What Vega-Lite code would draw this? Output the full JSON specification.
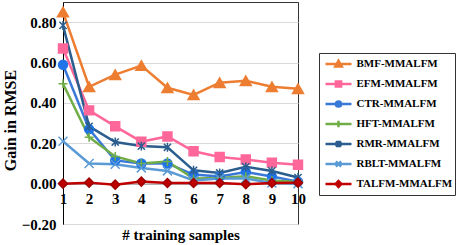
{
  "$schema": "https://vega.github.io/schema/vega-lite/v6.json",
  "width": 235,
  "height": 222,
  "autosize": "none",
  "padding": {"left": 63, "top": 2, "right": 163, "bottom": 21},
  "background": "white",
  "config": {
    "view": {"stroke": "#333333", "strokeWidth": 1},
    "font": "Liberation Serif"
  },
  "data": {
    "values": [
      {"s": "BMF-MMALFM", "n": 1, "v": 0.85}, {"s": "BMF-MMALFM", "n": 2, "v": 0.48}, {"s": "BMF-MMALFM", "n": 3, "v": 0.54}, {"s": "BMF-MMALFM", "n": 4, "v": 0.585}, {"s": "BMF-MMALFM", "n": 5, "v": 0.475}, {"s": "BMF-MMALFM", "n": 6, "v": 0.44}, {"s": "BMF-MMALFM", "n": 7, "v": 0.5}, {"s": "BMF-MMALFM", "n": 8, "v": 0.51}, {"s": "BMF-MMALFM", "n": 9, "v": 0.48}, {"s": "BMF-MMALFM", "n": 10, "v": 0.47},
      {"s": "EFM-MMALFM", "n": 1, "v": 0.67}, {"s": "EFM-MMALFM", "n": 2, "v": 0.363}, {"s": "EFM-MMALFM", "n": 3, "v": 0.284}, {"s": "EFM-MMALFM", "n": 4, "v": 0.208}, {"s": "EFM-MMALFM", "n": 5, "v": 0.234}, {"s": "EFM-MMALFM", "n": 6, "v": 0.16}, {"s": "EFM-MMALFM", "n": 7, "v": 0.132}, {"s": "EFM-MMALFM", "n": 8, "v": 0.12}, {"s": "EFM-MMALFM", "n": 9, "v": 0.104}, {"s": "EFM-MMALFM", "n": 10, "v": 0.094},
      {"s": "CTR-MMALFM", "n": 1, "v": 0.589}, {"s": "CTR-MMALFM", "n": 2, "v": 0.27}, {"s": "CTR-MMALFM", "n": 3, "v": 0.115}, {"s": "CTR-MMALFM", "n": 4, "v": 0.1}, {"s": "CTR-MMALFM", "n": 5, "v": 0.1}, {"s": "CTR-MMALFM", "n": 6, "v": 0.045}, {"s": "CTR-MMALFM", "n": 7, "v": 0.035}, {"s": "CTR-MMALFM", "n": 8, "v": 0.058}, {"s": "CTR-MMALFM", "n": 9, "v": 0.035}, {"s": "CTR-MMALFM", "n": 10, "v": 0.01},
      {"s": "HFT-MMALFM", "n": 1, "v": 0.495}, {"s": "HFT-MMALFM", "n": 2, "v": 0.23}, {"s": "HFT-MMALFM", "n": 3, "v": 0.135}, {"s": "HFT-MMALFM", "n": 4, "v": 0.1}, {"s": "HFT-MMALFM", "n": 5, "v": 0.11}, {"s": "HFT-MMALFM", "n": 6, "v": 0.025}, {"s": "HFT-MMALFM", "n": 7, "v": 0.028}, {"s": "HFT-MMALFM", "n": 8, "v": 0.036}, {"s": "HFT-MMALFM", "n": 9, "v": 0.016}, {"s": "HFT-MMALFM", "n": 10, "v": 0.008},
      {"s": "RMR-MMALFM", "n": 1, "v": 0.784}, {"s": "RMR-MMALFM", "n": 2, "v": 0.284}, {"s": "RMR-MMALFM", "n": 3, "v": 0.206}, {"s": "RMR-MMALFM", "n": 4, "v": 0.186}, {"s": "RMR-MMALFM", "n": 5, "v": 0.18}, {"s": "RMR-MMALFM", "n": 6, "v": 0.066}, {"s": "RMR-MMALFM", "n": 7, "v": 0.053}, {"s": "RMR-MMALFM", "n": 8, "v": 0.083}, {"s": "RMR-MMALFM", "n": 9, "v": 0.063}, {"s": "RMR-MMALFM", "n": 10, "v": 0.03},
      {"s": "RBLT-MMALFM", "n": 1, "v": 0.21}, {"s": "RBLT-MMALFM", "n": 2, "v": 0.1}, {"s": "RBLT-MMALFM", "n": 3, "v": 0.096}, {"s": "RBLT-MMALFM", "n": 4, "v": 0.078}, {"s": "RBLT-MMALFM", "n": 5, "v": 0.063}, {"s": "RBLT-MMALFM", "n": 6, "v": 0.016}, {"s": "RBLT-MMALFM", "n": 7, "v": 0.025}, {"s": "RBLT-MMALFM", "n": 8, "v": 0.025}, {"s": "RBLT-MMALFM", "n": 9, "v": 0.003}, {"s": "RBLT-MMALFM", "n": 10, "v": 0.0},
      {"s": "TALFM-MMALFM", "n": 1, "v": 0.0}, {"s": "TALFM-MMALFM", "n": 2, "v": 0.005}, {"s": "TALFM-MMALFM", "n": 3, "v": -0.005}, {"s": "TALFM-MMALFM", "n": 4, "v": 0.01}, {"s": "TALFM-MMALFM", "n": 5, "v": 0.003}, {"s": "TALFM-MMALFM", "n": 6, "v": 0.003}, {"s": "TALFM-MMALFM", "n": 7, "v": 0.003}, {"s": "TALFM-MMALFM", "n": 8, "v": -0.003}, {"s": "TALFM-MMALFM", "n": 9, "v": 0.003}, {"s": "TALFM-MMALFM", "n": 10, "v": 0.005}
    ]
  },
  "encoding": {
    "x": {
      "field": "n", "type": "quantitative",
      "scale": {"domain": [1, 10], "nice": false, "zero": false},
      "axis": {
        "values": [1, 2, 3, 4, 5, 6, 7, 8, 9, 10],
        "offset": -40.4,
        "grid": false,
        "ticks": false,
        "labelFlush": false,
        "labelOverlap": false,
        "domainColor": "#999999",
        "labelFont": "Liberation Serif", "labelFontWeight": "bold", "labelFontSize": 15, "labelColor": "black",
        "labelPadding": 8,
        "labelBaseline": "top",
        "title": "# training samples",
        "titleFont": "Liberation Serif", "titleFontWeight": "bold", "titleFontSize": 15, "titleColor": "black",
        "titleBaseline": "top",
        "titleY": 44
      }
    },
    "y": {
      "field": "v", "type": "quantitative",
      "scale": {"domain": [-0.2, 0.9], "nice": false, "zero": false},
      "axis": {
        "values": [-0.2, 0, 0.2, 0.4, 0.6, 0.8],
        "format": ".2f",
        "grid": true, "gridColor": "#d9d9d9",
        "ticks": false,
        "labelFlush": false,
        "domainColor": "black",
        "labelFont": "Liberation Serif", "labelFontWeight": "bold", "labelFontSize": 15, "labelColor": "black",
        "labelPadding": 7,
        "title": "Gain in RMSE",
        "titleFont": "Liberation Serif", "titleFontWeight": "bold", "titleFontSize": 16, "titleColor": "black",
        "titleAngle": -90,
        "titleBaseline": "middle",
        "titleAlign": "center",
        "titleX": -53,
        "titleY": 118
      }
    }
  },
  "layer": [
    {
      "mark": {"type": "line", "strokeWidth": 2.5},
      "encoding": {
        "color": {
          "field": "s", "type": "nominal", "sort": null,
          "scale": {
            "domain": ["BMF-MMALFM", "EFM-MMALFM", "CTR-MMALFM", "HFT-MMALFM", "RMR-MMALFM", "RBLT-MMALFM", "TALFM-MMALFM"],
            "range": ["#ED7D31", "#FF679A", "#3A78D8", "#70AD47", "#2B5E8E", "#5B9BD5", "#C00000"]
          },
          "legend": {
            "title": null,
            "orient": "none",
            "legendX": 256,
            "legendY": 51,
            "padding": 2,
            "strokeColor": "#333333",
            "fillColor": "white",
            "symbolType": "stroke",
            "symbolSize": 676,
            "symbolStrokeWidth": 2.5,
            "symbolOffset": 3,
            "clipHeight": 18,
            "rowPadding": 2,
            "labelOffset": 3.5,
            "labelFont": "Liberation Serif", "labelFontWeight": "bold", "labelFontSize": 11, "labelColor": "black",
            "labelExpr": "datum.label + '\u00a0\u00a0\u00a0\u00a0'",
            "encode": {
              "symbols": {
                "update": {
                  "shape": {"signal": "datum.value === 'BMF-MMALFM' ? 'M-1,0H1M-0.25,0.2L0,-0.25L0.25,0.2Z' : datum.value === 'EFM-MMALFM' ? 'M-1,0H1M-0.2,-0.2H0.2V0.2H-0.2Z' : datum.value === 'CTR-MMALFM' ? 'M-1,0H1M-0.2,0A0.2,0.2 0 1,0 0.2,0A0.2,0.2 0 1,0 -0.2,0Z' : datum.value === 'HFT-MMALFM' ? 'M-1,0H1M0,-0.25V0.25' : datum.value === 'RMR-MMALFM' ? 'M-1,0H1M-0.2,-0.2L0.2,0.2M-0.2,0.2L0.2,-0.2M0,-0.25V0.25' : datum.value === 'RBLT-MMALFM' ? 'M-1,0H1M-0.2,-0.2L0.2,0.2M-0.2,0.2L0.2,-0.2' : 'M-1,0H1M-0.22,0L0,-0.22L0.22,0L0,0.22Z'"},
                  "fill": {"scale": "color", "field": "value"},
                  "stroke": {"scale": "color", "field": "value"},
                  "strokeWidth": {"value": 2.5},
                  "opacity": {"value": 1}
                }
              }
            }
          }
        }
      }
    },
    {
      "mark": {"type": "point", "filled": true, "opacity": 1, "strokeWidth": 1.5},
      "encoding": {
        "fill": {
          "field": "s", "type": "nominal", "sort": null, "legend": null,
          "scale": {
            "domain": ["BMF-MMALFM", "EFM-MMALFM", "CTR-MMALFM", "HFT-MMALFM", "RMR-MMALFM", "RBLT-MMALFM", "TALFM-MMALFM"],
            "range": ["#ED7D31", "#FF679A", "#1F74E8", "#70AD47", "#2B5E8E", "#5B9BD5", "#C00000"]
          }
        },
        "stroke": {
          "field": "s", "type": "nominal", "sort": null, "legend": null,
          "scale": {
            "domain": ["BMF-MMALFM", "EFM-MMALFM", "CTR-MMALFM", "HFT-MMALFM", "RMR-MMALFM", "RBLT-MMALFM", "TALFM-MMALFM"],
            "range": ["#ED7D31", "#FF679A", "#1F74E8", "#70AD47", "#2B5E8E", "#5B9BD5", "#A00000"]
          }
        },
        "shape": {
          "condition": [
            {"test": "datum.s === 'BMF-MMALFM'", "value": "triangle-up"},
            {"test": "datum.s === 'EFM-MMALFM'", "value": "square"},
            {"test": "datum.s === 'CTR-MMALFM'", "value": "circle"},
            {"test": "datum.s === 'HFT-MMALFM'", "value": "M-1,0H1M0,-1V1"},
            {"test": "datum.s === 'RMR-MMALFM'", "value": "M-0.8,-0.8L0.8,0.8M-0.8,0.8L0.8,-0.8M0,-1V1"},
            {"test": "datum.s === 'RBLT-MMALFM'", "value": "M-1,-1L1,1M-1,1L1,-1"}
          ],
          "value": "diamond"
        },
        "size": {"condition": {"test": "datum.s === 'BMF-MMALFM'", "value": 120}, "value": 80}
      }
    }
  ]
}
